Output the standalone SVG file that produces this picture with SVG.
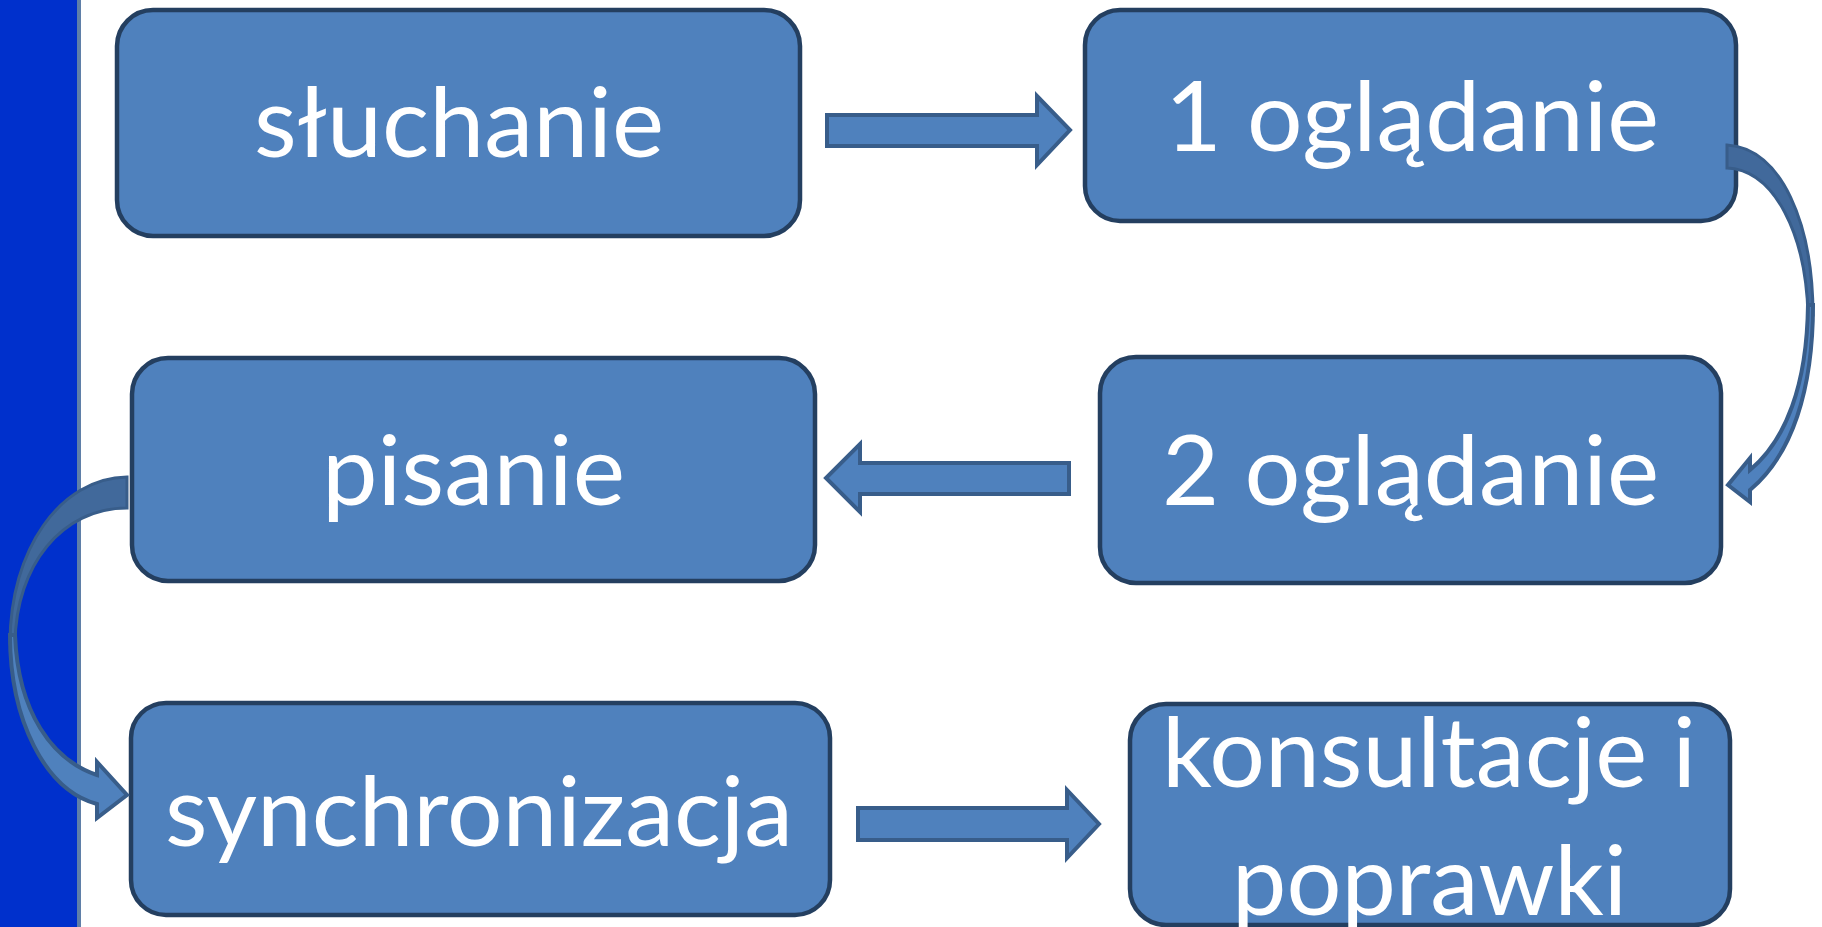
<svg xmlns="http://www.w3.org/2000/svg" width="1822" height="927" viewBox="0 0 1822 927">
<style>
.box{fill:#4f81bd;stroke:#243f60;stroke-width:4.5}
.arr{fill:#4f81bd;stroke:#385d8a;stroke-width:4;stroke-linejoin:miter}
.dark{fill:#41699b;stroke:#385d8a;stroke-width:3}
.t{font-family:Lato,"Noto Sans",sans-serif;font-size:96px;fill:#ffffff}
</style>
<rect x="0" y="0" width="1822" height="927" fill="#ffffff"/>
<rect x="0" y="0" width="77" height="927" fill="#0030cc"/>
<rect x="77" y="0" width="4" height="927" fill="#5f7fa8"/>
<g id="n1"><rect class="box" x="117" y="10" width="683" height="226" rx="36"/><text class="t" x="254" y="157" textLength="410" lengthAdjust="spacingAndGlyphs">słuchanie</text></g>
<g id="n2"><rect class="box" x="1085" y="10" width="651" height="211" rx="35"/><text class="t" x="1165" y="151" textLength="494" lengthAdjust="spacingAndGlyphs">1 oglądanie</text></g>
<g id="n3"><rect class="box" x="132" y="358" width="683" height="223" rx="36"/><text class="t" x="322" y="505" textLength="303" lengthAdjust="spacingAndGlyphs">pisanie</text></g>
<g id="n4"><rect class="box" x="1100" y="357" width="621" height="226" rx="36"/><text class="t" x="1162" y="505" textLength="497" lengthAdjust="spacingAndGlyphs">2 oglądanie</text></g>
<g id="n5"><rect class="box" x="131" y="703" width="699" height="212" rx="35"/><text class="t" x="165" y="846" textLength="628" lengthAdjust="spacingAndGlyphs">synchronizacja</text></g>
<g id="n6"><rect class="box" x="1130" y="704" width="600" height="221" rx="36"/><text class="t" x="1162" y="787" textLength="534" lengthAdjust="spacingAndGlyphs">konsultacje i</text><text class="t" x="1232" y="915" textLength="395" lengthAdjust="spacingAndGlyphs">poprawki</text></g>
<g id="connectors">
<path class="arr" d="M827,115 L1037,115 L1037,96 L1070,130 L1037,165 L1037,146 L827,146 Z"/>
<path class="arr" d="M1069,463 L860,463 L860,444 L826,478 L860,512 L860,494 L1069,494 Z"/>
<path class="arr" d="M858,808 L1067,808 L1067,790 L1099,824 L1067,858 L1067,840 L858,840 Z"/>
<path class="dark" d="M1727,145 C1782,148 1813,225 1813,315 L1808,315 C1806,235 1775,170 1727,168 Z"/>
<path class="arr" d="M1813,305 C1813,390 1792,455 1750,490 L1750,502 L1728,485 L1750,458 L1750,470 C1786,440 1807,385 1808,305 Z"/>
<path class="dark" d="M127,477 C60,478 10,550 10,643 L15,643 C16,565 62,508 127,508 Z"/>
<path class="arr" d="M10,635 C10,720 45,790 97,804 L97,818 L127,795 L97,762 L97,775 C52,760 18,712 15,635 Z"/>
</g>
</svg>
